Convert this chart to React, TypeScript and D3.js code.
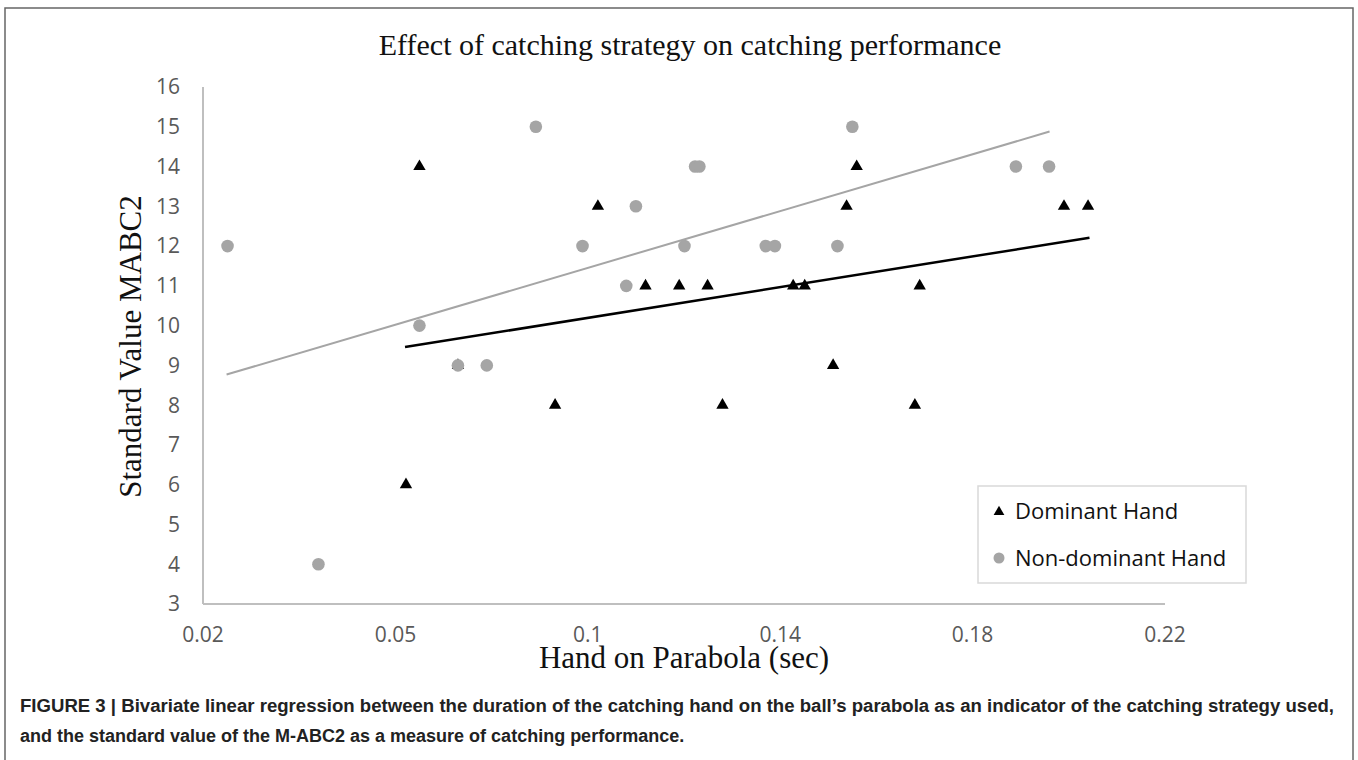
import React from 'react'
import * as d3 from 'd3'

// values
const dominantX = [0.065, 0.073, 0.0622, 0.0932, 0.1021, 0.112, 0.119, 0.1249, 0.128, 0.1427, 0.1451, 0.151, 0.1538, 0.1559, 0.168, 0.169, 0.199, 0.204]
const dominantY = [14, 9, 6, 8, 13, 11, 11, 11, 8, 11, 11, 9, 13, 14, 8, 11, 13, 13]

const nonDominantX = [0.0251, 0.044, 0.065, 0.073, 0.079, 0.0892, 0.0989, 0.108, 0.11, 0.1201, 0.1223, 0.1232, 0.137, 0.1389, 0.1519, 0.155, 0.189, 0.1959]
const nonDominantY = [12, 4, 10, 9, 9, 15, 12, 11, 13, 12, 14, 14, 12, 12, 12, 15, 14, 14]

// linear trendline end points (as drawn in the source chart)
const dominantTrendX = [0.062, 0.2043]
const dominantTrendY = [9.46, 12.21]
const nonDominantTrendX = [0.0249, 0.196]
const nonDominantTrendY = [8.77, 14.88]

const xTicks = [0.02, 0.06, 0.1, 0.14, 0.18, 0.22]
const xTickLabels = ['0.02', '0.05', '0.1', '0.14', '0.18', '0.22']
const yTicks = [3, 4, 5, 6, 7, 8, 9, 10, 11, 12, 13, 14, 15, 16]

const seriesNames = ['Dominant Hand', 'Non-dominant Hand']

const title = 'Effect of catching strategy on catching performance'
const xTitle = 'Hand on Parabola (sec)'
const yTitle = 'Standard Value MABC2'
const captionLines = [
  'FIGURE 3 | Bivariate linear regression between the duration of the catching hand on the ball\u2019s parabola as an indicator of the catching strategy used,',
  'and the standard value of the M-ABC2 as a measure of catching performance.',
]

const W = 1358
const H = 760
const grey = '#a5a5a5'
const axisColor = '#bfbfbf'
const tickFont = '"Open Sans", "Noto Sans", sans-serif'
const serif = '"Liberation Serif", "DejaVu Serif", serif'
const captionFont = '"Liberation Sans", Arial, sans-serif'

const App = () => {
  const x = d3.scaleLinear().domain([0.02, 0.22]).range([203, 1165])
  const y = d3.scaleLinear().domain([3, 16]).range([604, 87])

  const triangle = d3.symbol().type(d3.symbolTriangle).size(66)()
  const smallTriangle = d3.symbol().type(d3.symbolTriangle).size(50)()

  const domTrend = d3
    .line<number>()
    .x((d) => x(dominantTrendX[d]))
    .y((d) => y(dominantTrendY[d]))([0, 1])
  const nonTrend = d3
    .line<number>()
    .x((d) => x(nonDominantTrendX[d]))
    .y((d) => y(nonDominantTrendY[d]))([0, 1])

  return (
    <svg width={W} height={H} style={{ position: 'absolute', left: 0, top: 0, background: '#fff' }}>
      <rect x={0} y={0} width={W} height={H} fill="#fff" />
      {/* figure frame */}
      <rect x={5} y={8} width={1348} height={770} fill="none" stroke="#666" strokeWidth={1.5} />

      <text x={690} y={55} textAnchor="middle" fontFamily={serif} fontSize={30} fill="#111">
        {title}
      </text>

      {/* axes */}
      <line x1={x(0.02)} x2={x(0.02)} y1={y(16)} y2={y(3)} stroke={axisColor} strokeWidth={2} />
      <line x1={x(0.02)} x2={x(0.22)} y1={y(3)} y2={y(3)} stroke={axisColor} strokeWidth={2} />

      {yTicks.map((t) => (
        <text key={t} x={180} y={y(t)} dy="0.35em" textAnchor="end" fontFamily={tickFont} fontSize={21} fill="#595959">
          {t}
        </text>
      ))}
      {xTicks.map((t, i) => (
        <text key={t} x={x(t)} y={642} textAnchor="middle" fontFamily={tickFont} fontSize={21} fill="#595959">
          {xTickLabels[i]}
        </text>
      ))}

      <text x={(x(0.02) + x(0.22)) / 2} y={668} textAnchor="middle" fontFamily={serif} fontSize={31} fill="#111">
        {xTitle}
      </text>
      <text
        transform={`translate(141, ${(y(3) + y(16)) / 2 + 1}) rotate(-90)`}
        textAnchor="middle"
        fontFamily={serif}
        fontSize={31}
        fill="#111"
      >
        {yTitle}
      </text>

      {/* trend lines */}
      <path d={nonTrend ?? ''} stroke={grey} strokeWidth={2} fill="none" />
      <path d={domTrend ?? ''} stroke="#000" strokeWidth={2.5} fill="none" />

      {/* points */}
      {dominantX.map((v, i) => (
        <path key={'d' + i} d={triangle ?? ''} transform={`translate(${x(v)}, ${y(dominantY[i])})`} fill="#000" />
      ))}
      {nonDominantX.map((v, i) => (
        <circle key={'n' + i} cx={x(v)} cy={y(nonDominantY[i])} r={6.3} fill={grey} />
      ))}

      {/* legend */}
      <rect x={978} y={486} width={268} height={97} fill="#fff" stroke="#d9d9d9" strokeWidth={1.5} />
      <path d={smallTriangle ?? ''} transform="translate(999, 512)" fill="#000" />
      <text x={1015} y={519} fontFamily={tickFont} fontSize={22} fill="#111">
        {seriesNames[0]}
      </text>
      <circle cx={999} cy={558} r={5.5} fill={grey} />
      <text x={1015} y={566} fontFamily={tickFont} fontSize={22} fill="#111">
        {seriesNames[1]}
      </text>

      {/* caption */}
      <text x={20} y={712} fontFamily={captionFont} fontWeight="bold" fontSize={18} fill="#222" textLength={1314} lengthAdjust="spacingAndGlyphs">
        {captionLines[0]}
      </text>
      <text x={20} y={742} fontFamily={captionFont} fontWeight="bold" fontSize={18} fill="#222">
        {captionLines[1]}
      </text>
    </svg>
  )
}

export default App
